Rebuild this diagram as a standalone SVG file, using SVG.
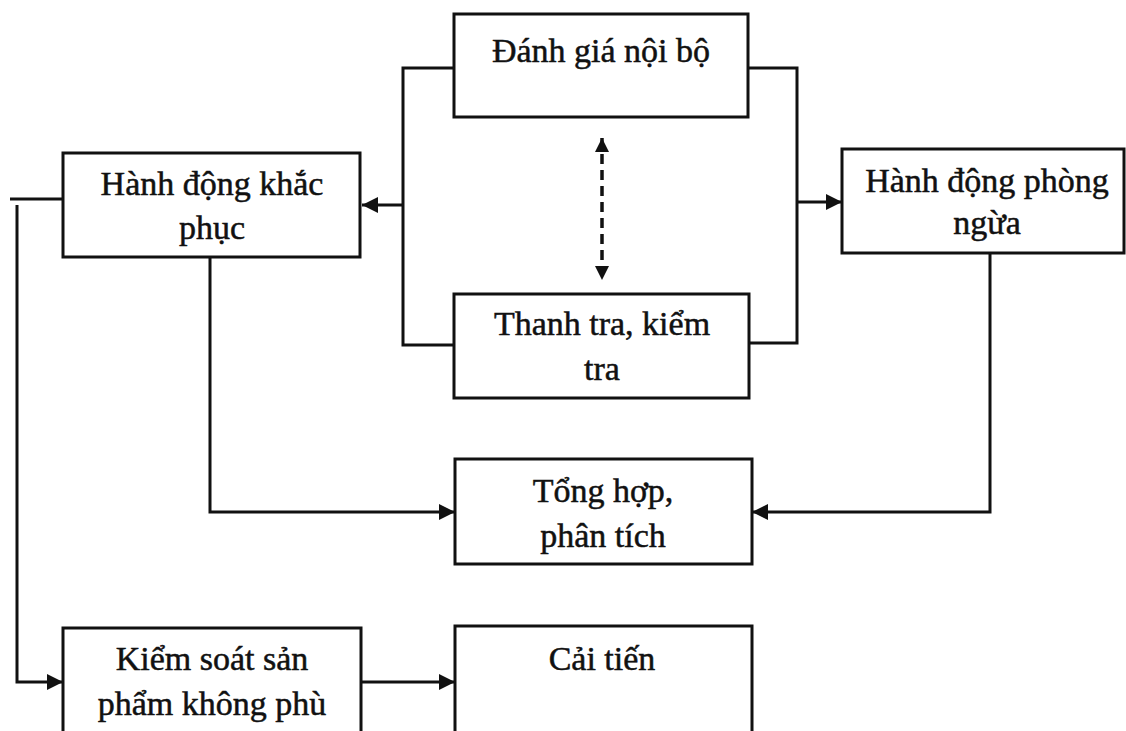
<svg xmlns="http://www.w3.org/2000/svg" width="1126" height="731" viewBox="0 0 1126 731">
<style>
.box{fill:#fff;stroke:#111;stroke-width:3}
.t{font-family:"Liberation Serif","Times New Roman",serif;font-size:34px;fill:#111;stroke:#111;stroke-width:0.5;text-anchor:middle}
.c{fill:none;stroke:#111;stroke-width:3}
.d{fill:none;stroke:#111;stroke-width:3.5;stroke-dasharray:10 6}
</style>
<defs>
<marker id="ah" markerUnits="userSpaceOnUse" markerWidth="17" markerHeight="16" refX="16" refY="8" orient="auto">
<path d="M0,0 L16,8 L0,16 z" fill="#111"/>
</marker>
<marker id="ad" markerUnits="userSpaceOnUse" markerWidth="16" markerHeight="14" refX="14" refY="7" orient="auto-start-reverse">
<path d="M0,0 L14,7 L0,14 z" fill="#111"/>
</marker>
</defs>
<rect width="1126" height="731" fill="#fff"/>
<g id="connectors">
<polyline class="c" points="454,68 403,68 403,345 454,345"/>
<polyline class="c" points="748,68 797,68 797,343 749,343"/>
<line class="c" x1="403" y1="205" x2="362" y2="205" marker-end="url(#ah)"/>
<line class="c" x1="797" y1="202" x2="842" y2="202" marker-end="url(#ah)"/>
<line class="d" x1="602" y1="138" x2="602" y2="280" marker-start="url(#ad)" marker-end="url(#ad)"/>
<polyline class="c" points="210,257 210,512 455,512" marker-end="url(#ah)"/>
<polyline class="c" points="990,253 990,512 752,512" marker-end="url(#ah)"/>
<line class="c" x1="10" y1="199" x2="63" y2="199"/>
<polyline class="c" points="17,205 17,682 63,682" marker-end="url(#ah)"/>
<line class="c" x1="361" y1="682" x2="455" y2="682" marker-end="url(#ah)"/>
</g>
<g id="danh-gia">
<rect class="box" x="454" y="14" width="294" height="103"/>
<text class="t" x="601" y="62">Đánh giá nội bộ</text>
</g>
<g id="khac-phuc">
<rect class="box" x="63" y="153" width="297" height="104"/>
<text class="t" x="212" y="195">Hành động khắc</text>
<text class="t" x="212" y="239">phục</text>
</g>
<g id="phong-ngua">
<rect class="box" x="842" y="149" width="282" height="104"/>
<text class="t" x="987" y="192">Hành động phòng</text>
<text class="t" x="987" y="234">ngừa</text>
</g>
<g id="thanh-tra">
<rect class="box" x="454" y="294" width="295" height="104"/>
<text class="t" x="602" y="335">Thanh tra, kiểm</text>
<text class="t" x="602" y="380">tra</text>
</g>
<g id="tong-hop">
<rect class="box" x="455" y="459" width="297" height="105"/>
<text class="t" x="603" y="502">Tổng hợp,</text>
<text class="t" x="603" y="547">phân tích</text>
</g>
<g id="kiem-soat">
<rect class="box" x="63" y="628" width="298" height="112"/>
<text class="t" x="212" y="670">Kiểm soát sản</text>
<text class="t" x="212" y="715">phẩm không phù</text>
</g>
<g id="cai-tien">
<rect class="box" x="455" y="626" width="297" height="114"/>
<text class="t" x="602" y="670">Cải tiến</text>
</g>
</svg>
